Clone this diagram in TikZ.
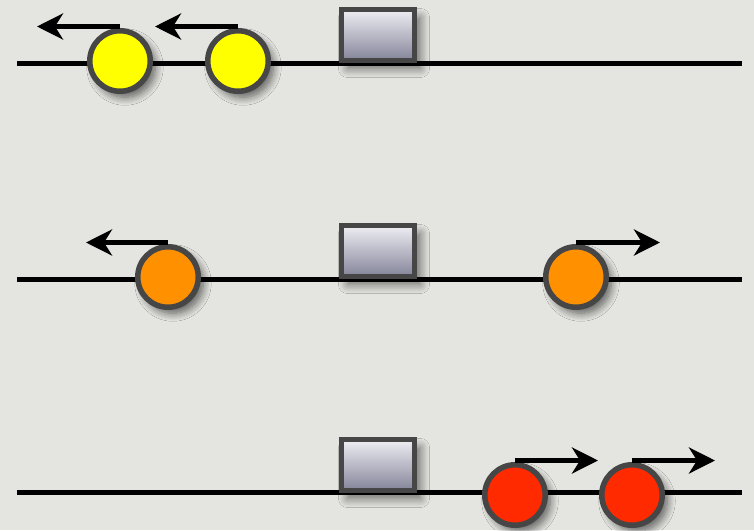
\documentclass[tikz,border=0pt]{standalone}
\usetikzlibrary{arrows.meta,shadows.blur}
\definecolor{bg}{HTML}{E4E4E0}
\definecolor{rim}{HTML}{464646}
\definecolor{ballY}{HTML}{FFFF00}
\definecolor{ballO}{HTML}{FF9000}
\definecolor{ballR}{HTML}{FF2A00}
\definecolor{boxtop}{HTML}{EEEEF3}
\definecolor{boxbot}{HTML}{84849A}
\tikzset{
  track/.style={line width=5pt, line cap=butt},
  ball/.style={circle, draw=rim, line width=5.5pt, minimum size=60.5pt, inner sep=0pt,
    blur shadow={shadow xshift=5pt, shadow yshift=-6pt, shadow blur steps=10, shadow blur radius=8pt, shadow opacity=60}},
  gate/.style={rectangle, draw=rim, line width=5pt, minimum width=73pt, minimum height=51pt, inner sep=0pt,
    top color=boxtop, bottom color=boxbot,
    blur shadow={shadow xshift=6pt, shadow yshift=-8pt, shadow blur steps=10, shadow blur radius=9pt, shadow opacity=55}},
  move/.style={line width=5pt, -{Stealth[length=26pt, width=26pt, inset=8pt]}},
}
\begin{document}
\begin{tikzpicture}[x=1pt,y=-1pt]
\fill[bg] (0,0) rectangle (754,530);
\useasboundingbox (0,0) rectangle (754,530);
% row 1
\coordinate (l1a) at (17,63); \coordinate (l1b) at (742,63);
\draw[track] (l1a) -- (l1b);
\node[gate] (g1) at (378,35) {};
\node[ball, fill=ballY] (y1) at (120,61) {};
\node[ball, fill=ballY] (y2) at (238,61) {};
\coordinate (s1) at ([yshift=1.5pt]y1.north); \coordinate (s2) at ([yshift=1.5pt]y2.north);
\coordinate (t1) at (37,0); \coordinate (t2) at (155,0);
\draw[move] (s1) -- (t1 |- s1);
\draw[move] (s2) -- (t2 |- s2);
% row 2
\coordinate (l2a) at (17,279); \coordinate (l2b) at (742,279);
\draw[track] (l2a) -- (l2b);
\node[gate] (g2) at (378,251) {};
\node[ball, fill=ballO] (o1) at (168,277) {};
\node[ball, fill=ballO] (o2) at (576,277) {};
\coordinate (s3) at ([yshift=1.5pt]o1.north); \coordinate (s4) at ([yshift=1.5pt]o2.north);
\coordinate (t3) at (86,0); \coordinate (t4) at (660,0);
\draw[move] (s3) -- (t3 |- s3);
\draw[move] (s4) -- (t4 |- s4);
% row 3
\coordinate (l3a) at (17,492); \coordinate (l3b) at (742,492);
\draw[track] (l3a) -- (l3b);
\node[gate] (g3) at (378,465) {};
\node[ball, fill=ballR] (r1) at (515,495) {};
\node[ball, fill=ballR] (r2) at (632,495) {};
\coordinate (s5) at ([yshift=1.5pt]r1.north); \coordinate (s6) at ([yshift=1.5pt]r2.north);
\coordinate (t5) at (598,0); \coordinate (t6) at (715,0);
\draw[move] (s5) -- (t5 |- s5);
\draw[move] (s6) -- (t6 |- s6);
\end{tikzpicture}
\end{document}
